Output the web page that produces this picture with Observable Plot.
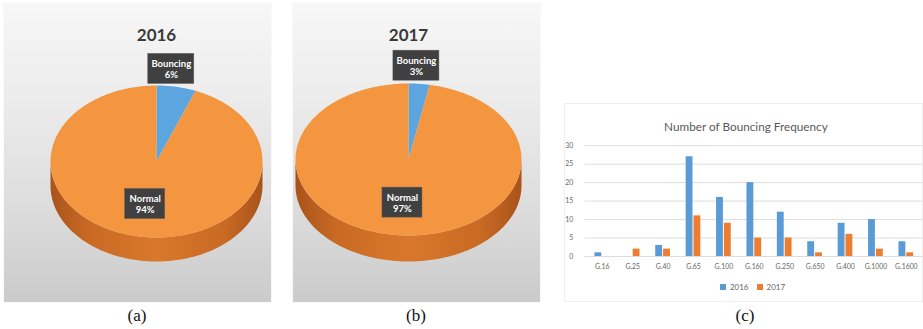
<!DOCTYPE html>
<html>
<head>
<meta charset="utf-8">
<script src="https://cdn.jsdelivr.net/npm/d3@7"></script>
<script src="https://cdn.jsdelivr.net/npm/@observablehq/plot@0.6"></script>
<style>
  html, body { margin: 0; padding: 0; background: #fff; }
  body { width: 923px; height: 329px; overflow: hidden; position: relative; font-family: Lato, "Open Sans", sans-serif; }
  .box { position: absolute; overflow: hidden; }
  .piebox { background: linear-gradient(180deg, #f7f7f7 0%, #ebebeb 35%, #dcdcdc 70%, #cbcbcb 100%); box-shadow: 0 0 1px rgba(0,0,0,0.15); }
  .barbox { background: #fff; border: 1px solid #efefef; box-sizing: border-box; }
  .cap { position: absolute; top: 307px; font-family: "Liberation Serif", "Times New Roman", serif; font-size: 17px; line-height: 17px; transform: translateX(-50%); color: #111; }
  .legendwrap { position: absolute; left: 564px; width: 359px; top: 270px; display: flex; justify-content: center; padding-left: 26px; box-sizing: border-box; }
  svg { display: block; }
</style>
</head>
<body>
<div id="pa" class="box piebox" style="left:4px;top:3px;width:267px;height:299px"></div>
<div id="pb" class="box piebox" style="left:293px;top:3px;width:247px;height:299px"></div>
<div id="pc" class="box barbox" style="left:564px;top:103px;width:359px;height:199px"></div>
<div id="lg" class="legendwrap"></div>
<div class="cap" style="left:137px">(a)</div>
<div class="cap" style="left:416px">(b)</div>
<div class="cap" style="left:745px">(c)</div>
<script>
// ---------------- data ----------------
const years = ["2016", "2017"];
const sliceNames = ["Bouncing", "Normal"];
const share2016 = [6, 94];
const share2017 = [3, 97];

const chartTitle = "Number of Bouncing Frequency";
const categories = ["G.16", "G.25", "G.40", "G.65", "G.100", "G.160", "G.250", "G.650", "G.400", "G.1000", "G.1600"];
const bounce2016 = [1, 0, 3, 27, 16, 20, 12, 4, 9, 10, 4];
const bounce2017 = [0, 2, 2, 11, 9, 5, 5, 1, 6, 2, 1];
const yTicks = [0, 5, 10, 15, 20, 25, 30];

// ---------------- style ----------------
const BAR_BLUE = "#5B9BD5", BAR_ORANGE = "#ED7D31";
const PIE_COLORS = ["#5DA5DF", "#F4963F"];
const FONT = "Lato, 'Open Sans', sans-serif";

function pieChart({title, values, width, height, cx, cy, rx, ry, depth, gradId}) {
  const arcs = d3.pie().sort(null).value(d => d)(values);
  const step = Math.PI / 180;
  const tops = [], sides = [], labels = [];
  arcs.forEach((a, i) => {
    const name = sliceNames[i];
    const n = Math.max(2, Math.ceil((a.endAngle - a.startAngle) / step));
    const pts = [{id: name, x: 0, y: 0}];
    for (let k = 0; k <= n; k++) {
      const t = a.startAngle + (a.endAngle - a.startAngle) * k / n;
      pts.push({id: name, x: Math.sin(t), y: -Math.cos(t)});
    }
    tops.push({name, color: PIE_COLORS[i], pts});
    const s0 = Math.max(a.startAngle, Math.PI / 2), s1 = Math.min(a.endAngle, 3 * Math.PI / 2);
    if (s1 > s0) {
      const m = Math.max(2, Math.ceil((s1 - s0) / step));
      const front = [];
      for (let k = 0; k <= m; k++) {
        const t = s0 + (s1 - s0) * k / m;
        front.push({id: name, x: Math.sin(t), y: -Math.cos(t)});
      }
      const d = depth / ry;
      sides.push(...front, ...front.slice().reverse().map(p => ({id: p.id, x: p.x, y: p.y + d})));
    }
    const mid = (a.startAngle + a.endAngle) / 2;
    const outside = a.data < 10;
    const r = outside ? 1.24 : 0.57;
    const hw = (outside ? 23 : 20) / rx, hh = 15 / ry;
    const lx = r * Math.sin(mid) * (outside ? 0.6 : 1), ly = -r * Math.cos(mid);
    labels.push({text: `${name}\n${a.data}%`, x: lx, y: ly, x1: lx - hw, x2: lx + hw, y1: ly - hh, y2: ly + hh});
  });

  const marks = [
    Plot.line(sides, {x: "x", y: "y", z: "id", fill: `url(#${gradId})`, stroke: "none", curve: "linear"}),
    ...tops.map(t => Plot.line(t.pts, {x: "x", y: "y", z: "id", fill: t.color, stroke: "none", curve: "linear"})),
    Plot.rect(labels, {x1: "x1", x2: "x2", y1: "y1", y2: "y2", fill: "#404040", stroke: "#5a5a5a", strokeWidth: 0.5}),
    Plot.text(labels, {x: "x", y: "y", text: "text", fill: "#fff", fontWeight: "bold", fontSize: 9.5, lineHeight: 1.2, fontFamily: FONT}),
    Plot.text([{t: title, x: 0}], {x: "x", text: "t", frameAnchor: "top", dy: 25, fontSize: 17, fontWeight: "bold", fill: "#3a3a3a", fontFamily: FONT})
  ];

  const svg = Plot.plot({
    width, height, margin: 0,
    style: {background: "transparent", overflow: "visible"},
    x: {type: "linear", domain: [-cx / rx, (width - cx) / rx], range: [0, width], axis: null},
    y: {type: "linear", domain: [-cy / ry, (height - cy) / ry], range: [0, height], axis: null},
    marks
  });
  const defs = d3.select(svg).insert("defs", ":first-child");
  const g = defs.append("linearGradient").attr("id", gradId).attr("x1", 0).attr("x2", 1).attr("y1", 0).attr("y2", 0);
  [[0, "#a9531a"], [0.18, "#c96a24"], [0.5, "#d9782c"], [0.82, "#c96a24"], [1, "#a9531a"]]
    .forEach(([o, c]) => g.append("stop").attr("offset", o).attr("stop-color", c));
  return svg;
}

document.getElementById("pa").append(pieChart({
  title: years[0], values: share2016, width: 267, height: 299, cx: 152, cy: 158, rx: 106, ry: 76, depth: 24, gradId: "sideA"
}));
document.getElementById("pb").append(pieChart({
  title: years[1], values: share2017, width: 247, height: 299, cx: 115, cy: 156, rx: 113, ry: 76, depth: 26, gradId: "sideB"
}));

// ---------------- bar chart ----------------
const rows2016 = categories.map((c, i) => ({cat: c, v: bounce2016[i]}));
const rows2017 = categories.map((c, i) => ({cat: c, v: bounce2017[i]}));

const bars = Plot.plot({
  width: 364, height: 199,
  marginTop: 42, marginBottom: 44, marginLeft: 20, marginRight: 0,
  style: {background: "transparent", fontFamily: FONT, overflow: "visible"},
  x: {type: "band", domain: categories, padding: 0, axis: null},
  y: {domain: [0, 30], axis: null},
  marks: [
    Plot.gridY(yTicks, {stroke: "#dcdcdc", strokeOpacity: 1, strokeWidth: 1}),
    Plot.barY(rows2016, {x: "cat", y: "v", fill: BAR_BLUE, dx: -4, insetLeft: 12, insetRight: 12}),
    Plot.barY(rows2017, {x: "cat", y: "v", fill: BAR_ORANGE, dx: 4, insetLeft: 12, insetRight: 12}),
    Plot.axisY(yTicks, {tickSize: 0, tickPadding: 12, fontSize: 7, fill: "#666", fontFamily: FONT, label: null}),
    Plot.axisX({tickSize: 0, tickPadding: 8, fontSize: 7, fill: "#666", fontFamily: FONT, label: null}),
    Plot.text([chartTitle], {frameAnchor: "top", dy: -24, dx: -8, fontSize: 12, fill: "#595959", fontFamily: FONT})
  ]
});
document.getElementById("pc").append(bars);

const legend = Plot.legend({
  color: {type: "ordinal", domain: years, range: [BAR_BLUE, BAR_ORANGE]},
  legend: "swatches", swatchSize: 6,
  style: {fontSize: "8px", color: "#666", fontFamily: FONT, marginBottom: "0"}
});
document.getElementById("lg").append(legend);
</script>
</body>
</html>
